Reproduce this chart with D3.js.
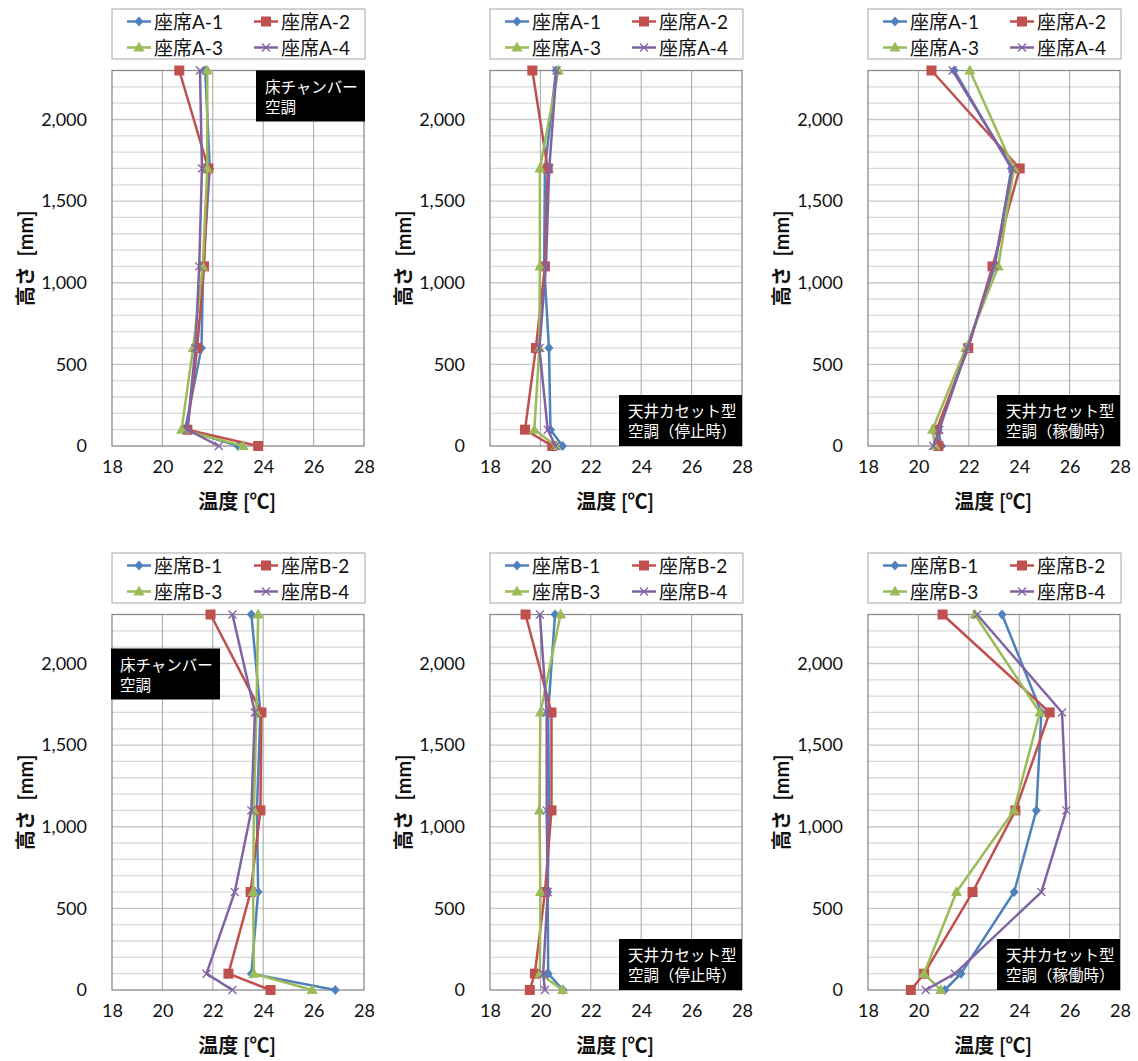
<!DOCTYPE html>
<html><head><meta charset="utf-8">
<script src="https://cdn.jsdelivr.net/npm/d3@7"></script>
<style>
body{margin:0;background:#fff;}
text{font-family:Lato,"Noto Sans CJK JP",sans-serif;}
</style></head>
<body><svg id="c" width="1138" height="1061"></svg>
<script>
// ---- data ----
const heights = [0, 100, 600, 1100, 1700, 2300];
const xTicks = [18, 20, 22, 24, 26, 28];
const yTicks = [0, 500, 1000, 1500, 2000];
const seriesNamesA = ["座席A-1", "座席A-2", "座席A-3", "座席A-4"];
const seriesNamesB = ["座席B-1", "座席B-2", "座席B-3", "座席B-4"];
const colors = ["#4F81BD", "#C0504D", "#9BBB59", "#8064A2"];
const xTitle = "温度 [℃]";
const yTitle = "高さ  [mm]";

// panel A: floor chamber
const aFloor1 = [23.0, 20.9, 21.55, 21.62, 21.88, 21.70];
const aFloor2 = [23.8, 20.99, 21.38, 21.65, 21.82, 20.67];
const aFloor3 = [23.2, 20.76, 21.22, 21.6, 21.78, 21.78];
const aFloor4 = [22.24, 20.99, 21.31, 21.46, 21.57, 21.49];
// panel A: ceiling cassette stopped
const aStop1 = [20.88, 20.4, 20.34, 20.15, 20.18, 20.62];
const aStop2 = [20.47, 19.39, 19.82, 20.18, 20.29, 19.68];
const aStop3 = [20.62, 19.76, 19.96, 19.98, 19.98, 20.71];
const aStop4 = [20.6, 20.29, 19.96, 20.22, 20.35, 20.64];
// panel A: ceiling cassette running
const aRun1 = [20.92, 20.78, 21.94, 23.03, 23.69, 21.42];
const aRun2 = [20.79, 20.72, 21.98, 22.94, 24.02, 20.52];
const aRun3 = [20.66, 20.56, 21.88, 23.17, 23.79, 22.04];
const aRun4 = [20.59, 20.83, 21.94, 23.0, 23.73, 21.36];
// panel B: floor chamber
const bFloor1 = [26.86, 23.53, 23.8, 23.75, 23.89, 23.53];
const bFloor2 = [24.29, 22.62, 23.5, 23.89, 23.93, 21.91];
const bFloor3 = [25.94, 23.63, 23.6, 23.63, 23.73, 23.8];
const bFloor4 = [22.78, 21.75, 22.87, 23.53, 23.67, 22.78];
// panel B: ceiling cassette stopped
const bStop1 = [20.9, 20.31, 20.29, 20.34, 20.31, 20.58];
const bStop2 = [19.58, 19.78, 20.18, 20.44, 20.44, 19.41];
const bStop3 = [20.88, 19.98, 20.0, 19.96, 20.0, 20.8];
const bStop4 = [20.18, 20.11, 20.29, 20.25, 20.25, 19.98];
// panel B: ceiling cassette running
const bRun1 = [21.05, 21.69, 23.8, 24.68, 24.88, 23.32];
const bRun2 = [19.70, 20.23, 22.15, 23.85, 25.21, 20.96];
const bRun3 = [20.89, 20.22, 21.51, 23.79, 24.82, 22.24];
const bRun4 = [20.29, 21.45, 24.88, 25.87, 25.70, 22.33];

const labelFloor = ["床チャンバー", "空調"];
const labelStop = ["天井カセット型", "空調（停止時）"];
const labelRun = ["天井カセット型", "空調（稼働時）"];

const panels = [
  {col:0,row:0,names:seriesNamesA,data:[aFloor1,aFloor2,aFloor3,aFloor4],label:labelFloor,lpos:"tr"},
  {col:1,row:0,names:seriesNamesA,data:[aStop1,aStop2,aStop3,aStop4],label:labelStop,lpos:"br"},
  {col:2,row:0,names:seriesNamesA,data:[aRun1,aRun2,aRun3,aRun4],label:labelRun,lpos:"br"},
  {col:0,row:1,names:seriesNamesB,data:[bFloor1,bFloor2,bFloor3,bFloor4],label:labelFloor,lpos:"tl"},
  {col:1,row:1,names:seriesNamesB,data:[bStop1,bStop2,bStop3,bStop4],label:labelStop,lpos:"br"},
  {col:2,row:1,names:seriesNamesB,data:[bRun1,bRun2,bRun3,bRun4],label:labelRun,lpos:"br"}
];

// ---- layout ----
const colLeft = [112, 490, 868];
const rowTop = [70.5, 614.5];
const W = 252, H = 375.5;
const svg = d3.select("#c");

const x = d3.scaleLinear().domain([18, 28]).range([0, W]);
const y = d3.scaleLinear().domain([0, 2300]).range([H, 0]);

function drawMarker(g, i, cx, cy) {
  const c = colors[i];
  if (i === 0) {
    g.append("path").attr("d", `M${cx},${cy-5}L${cx+4.5},${cy}L${cx},${cy+5}L${cx-4.5},${cy}Z`).attr("fill", c);
  } else if (i === 1) {
    g.append("rect").attr("x", cx-5).attr("y", cy-5).attr("width", 10).attr("height", 10).attr("fill", c);
  } else if (i === 2) {
    g.append("path").attr("d", `M${cx},${cy-6}L${cx+5.5},${cy+4}L${cx-5.5},${cy+4}Z`).attr("fill", c);
  } else {
    g.append("path").attr("d", `M${cx-4},${cy-4}L${cx+4},${cy+4}M${cx-4},${cy+4}L${cx+4},${cy-4}`)
      .attr("stroke", c).attr("stroke-width", 1.3).attr("fill", "none");
  }
}

panels.forEach(p => {
  const g = svg.append("g").attr("transform", `translate(${colLeft[p.col]},${rowTop[p.row]})`);

  // horizontal gridlines every 100
  const hLines = d3.range(100, 2300, 100);
  g.selectAll(".hg").data(hLines).enter().append("line")
    .attr("x1", 0).attr("x2", W)
    .attr("y1", d => y(d)).attr("y2", d => y(d))
    .attr("stroke", d => d % 500 === 0 ? "#C8C8C8" : "#D9D9D9").attr("stroke-width", 1.3);
  // vertical gridlines
  g.selectAll(".vg").data(xTicks.slice(1, -1)).enter().append("line")
    .attr("x1", d => x(d)).attr("x2", d => x(d))
    .attr("y1", 0).attr("y2", H)
    .attr("stroke", "#A6A6A6").attr("stroke-width", 1);
  // border
  g.append("rect").attr("x", 0).attr("y", 0).attr("width", W).attr("height", H)
    .attr("fill", "none").attr("stroke", "#8C8C8C").attr("stroke-width", 1.3);

  // axes
  const yAxis = d3.axisLeft(y).tickValues(yTicks).tickSize(0).tickPadding(25).tickFormat(d3.format(","));
  const ya = g.append("g").call(yAxis);
  ya.select(".domain").remove();
  ya.selectAll("text").attr("font-size", 18).attr("fill", "#111");

  const xAxis = d3.axisBottom(x).tickValues(xTicks).tickSize(0).tickPadding(14);
  const xa = g.append("g").attr("transform", `translate(0,${H})`).call(xAxis);
  xa.select(".domain").remove();
  xa.selectAll("text").attr("font-size", 18).attr("fill", "#111");

  // axis titles
  g.append("text").attr("x", W/2 - 1).attr("y", H + 63).attr("text-anchor", "middle")
    .attr("font-size", 20).attr("font-weight", "bold").attr("fill", "#111").text(xTitle);
  g.append("text").attr("transform", `translate(${-87},${H/2}) rotate(-90)`)
    .attr("text-anchor", "middle").attr("dominant-baseline", "central")
    .attr("font-size", 20).attr("font-weight", "bold").attr("fill", "#111").attr("xml:space", "preserve")
    .style("white-space", "pre").text(yTitle);

  // series
  const line = d3.line().x(d => x(d[0])).y(d => y(d[1]));
  p.data.forEach((vals, i) => {
    const pts = vals.map((v, k) => [v, heights[k]]);
    g.append("path").attr("d", line(pts)).attr("fill", "none")
      .attr("stroke", colors[i]).attr("stroke-width", 2.5).attr("stroke-linejoin", "round");
    const mg = g.append("g");
    pts.forEach(pt => drawMarker(mg, i, x(pt[0]), y(pt[1])));
  });

  // label box
  const bw = p.label[0].length === 6 ? 109 : 123, bh = 51;
  let bx, by;
  if (p.lpos === "tr") { bx = W - bw + 1; by = 0; }
  else if (p.lpos === "tl") { bx = -1; by = 34; }
  else { bx = W - bw; by = H - bh; }
  g.append("rect").attr("x", bx).attr("y", by).attr("width", bw).attr("height", bh).attr("fill", "#000");
  p.label.forEach((t, k) => {
    g.append("text").attr("x", bx + 9).attr("y", by + 16 + k * 20).attr("dominant-baseline", "central")
      .attr("font-size", 15.5).attr("fill", "#fff").text(t);
  });

  // legend
  const lg = svg.append("g").attr("transform", `translate(${colLeft[p.col]},${rowTop[p.row] - 61.5})`);
  lg.append("rect").attr("x", 0).attr("y", 0).attr("width", W + 1).attr("height", 50)
    .attr("fill", "#fff").attr("stroke", "#A6A6A6").attr("stroke-width", 1);
  p.names.forEach((n, i) => {
    const cx = i % 2 === 0 ? 15 : 142;
    const cy = i < 2 ? 12.5 : 38.5;
    lg.append("line").attr("x1", cx).attr("x2", cx + 24).attr("y1", cy).attr("y2", cy)
      .attr("stroke", colors[i]).attr("stroke-width", 2.5);
    drawMarker(lg, i, cx + 12, cy);
    lg.append("text").attr("x", cx + 27).attr("y", cy).attr("dominant-baseline", "central")
      .attr("font-size", 19).attr("fill", "#111").text(n);
  });
});
</script></body></html>
